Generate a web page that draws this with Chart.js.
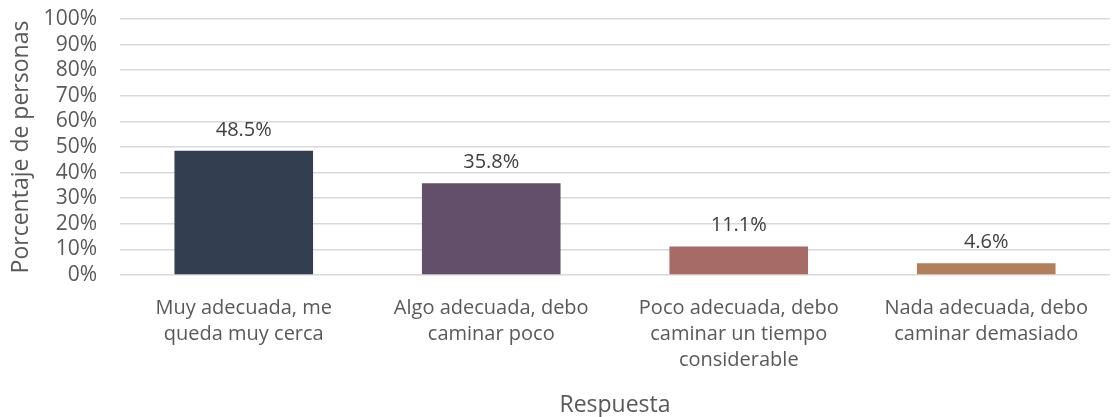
<!DOCTYPE html>
<html>
<head>
<meta charset="utf-8">
<script src="https://cdn.jsdelivr.net/npm/chart.js@4/dist/chart.umd.min.js"></script>
<style>
  html, body { margin: 0; padding: 0; background: #fff; }
  #wrap { width: 1112px; height: 417px; }
</style>
</head>
<body>
<div id="wrap"><canvas id="respChart"></canvas></div>
<script>
// Datos del gráfico
const categorias = [
  ['Muy adecuada, me', 'queda muy cerca'],
  ['Algo adecuada, debo', 'caminar poco'],
  ['Poco adecuada, debo', 'caminar un tiempo', 'considerable'],
  ['Nada adecuada, debo', 'caminar demasiado']
];
const porcentajes = [48.5, 35.8, 11.1, 4.6];
const coloresBarras = ['#333F50', '#634F69', '#A66A67', '#B27F5D'];
const ticksY = [0, 10, 20, 30, 40, 50, 60, 70, 80, 90, 100];

const fuente = "'Open Sans', 'Liberation Sans', sans-serif";
const gris = '#595959';

// etiquetas encima de cada barra
const etiquetasPlugin = {
  id: 'etiquetas',
  afterDatasetsDraw(chart) {
    const ctx = chart.ctx;
    const meta = chart.getDatasetMeta(0);
    ctx.save();
    ctx.font = '20px ' + fuente;
    ctx.fillStyle = '#404040';
    ctx.textAlign = 'center';
    ctx.textBaseline = 'bottom';
    meta.data.forEach(function (bar, i) {
      ctx.fillText(porcentajes[i].toFixed(1) + '%', bar.x, bar.y - 11);
    });
    ctx.restore();
  }
};

const ctx = document.getElementById('respChart').getContext('2d');
new Chart(ctx, {
  type: 'bar',
  data: {
    labels: categorias,
    datasets: [{
      data: porcentajes,
      backgroundColor: coloresBarras,
      categoryPercentage: 1,
      barPercentage: 0.56
    }]
  },
  options: {
    responsive: true,
    maintainAspectRatio: false,
    animation: false,
    layout: { padding: { top: 19, right: 2, bottom: 0, left: 0 } },
    plugins: {
      legend: { display: false },
      tooltip: { enabled: false }
    },
    scales: {
      x: {
        afterFit(axis) { axis.height = 142; },
        grid: { display: false },
        border: { display: false },
        ticks: {
          color: gris,
          font: { family: fuente, size: 20, lineHeight: 1.3 },
          padding: 12,
          maxRotation: 0,
          autoSkip: false
        },
        title: {
          display: true,
          text: 'Respuesta',
          color: gris,
          font: { family: fuente, size: 23, lineHeight: 1 },
          padding: { top: 0, bottom: 0 }
        }
      },
      y: {
        min: 0,
        max: 100,
        afterFit(axis) {
          axis.width = 120;
          axis.paddingTop = 0;
          axis.paddingBottom = 0;
        },
        afterBuildTicks(axis) {
          axis.ticks = ticksY.map(function (v) { return { value: v }; });
        },
        grid: { color: '#D9D9D9', lineWidth: 1.5, drawTicks: false },
        border: { display: false },
        ticks: {
          color: gris,
          font: { family: fuente, size: 21, lineHeight: 1.2 },
          padding: 23,
          autoSkip: false,
          callback: function (v) { return v + '%'; }
        },
        title: {
          display: true,
          text: 'Porcentaje de personas',
          color: gris,
          font: { family: fuente, size: 23, lineHeight: 1.2 },
          padding: { top: 8, bottom: 0 }
        }
      }
    }
  },
  plugins: [etiquetasPlugin]
});
</script>
</body>
</html>
